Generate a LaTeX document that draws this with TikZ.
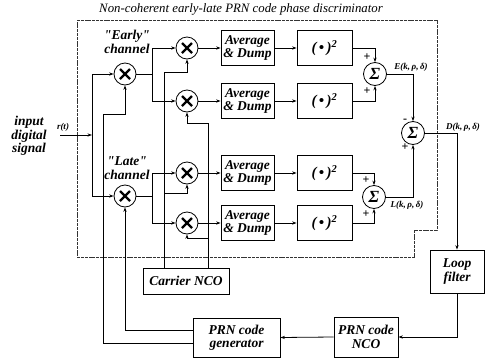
\documentclass[tikz,border=0pt]{standalone}
\usepackage{fontspec}
\setmainfont{Liberation Serif}
\newfontfamily\lsf{Liberation Serif}
\usetikzlibrary{arrows.meta}
\tikzset{
  lbl/.style={font=\lsf\bfseries\itshape\fontsize{13.5}{13.5}\selectfont, align=center, inner sep=0pt},
  blk/.style={draw, lbl, minimum width=53pt, minimum height=35pt},
  sqbox/.style={draw, lbl, minimum width=55pt, minimum height=35pt, font=\lsf\bfseries\itshape\fontsize{15}{15}\selectfont},
  mult/.style={draw, circle, minimum size=22pt, inner sep=0pt,
    path picture={\draw[line width=2.2pt]
      ([shift={(-5pt,-5pt)}]path picture bounding box.center) -- ([shift={(5pt,5pt)}]path picture bounding box.center)
      ([shift={(-5pt,5pt)}]path picture bounding box.center) -- ([shift={(5pt,-5pt)}]path picture bounding box.center);}},
  sumn/.style={draw, circle, minimum size=23pt, inner sep=0pt, font=\lsf\bfseries\itshape\fontsize{17}{17}\selectfont},
  sml/.style={font=\lsf\bfseries\itshape\fontsize{9}{9}\selectfont, inner sep=0pt},
  sgn/.style={font=\lsf\bfseries\fontsize{12}{12}\selectfont, inner sep=0pt},
  encl/.style={line width=0.6pt, black!80, dash pattern=on 3pt off 0.8pt}
}
\begin{document}
\begin{tikzpicture}[x=1pt,y=-1pt, line width=0.8pt, >={Stealth[length=4.5pt,width=3.2pt]}]
\useasboundingbox (0,0) rectangle (485,362);
% enclosure and title
\node[font=\lsf\itshape\fontsize{12.8}{13}\selectfont, inner sep=0pt] (title) at (241,9) {Non-coherent early-late PRN code phase discriminator};
\draw[encl] (77,20) -- (437,20) -- (437,230) -- (414,230) -- (414,257) -- (77,257) -- cycle;
% input
\node[lbl] (inp) at (29,136) {input\\digital\\signal};
\node[sml] (rt) at (63,127) {r(t)};
\coordinate (inS) at (60,135);
\coordinate (bus) at (92,135);
% multipliers
\node[mult] (E0) at (125,74) {};
\node[mult] (L0) at (125,196) {};
\node[mult] (EI) at (187,48) {};
\node[mult] (EQ) at (187,101) {};
\node[mult] (LI) at (187,173) {};
\node[mult] (LQ) at (187,223) {};
\node[lbl] (chE) at (127,42) {"Early"\\channel};
\node[lbl] (chL) at (127,168) {"Late"\\channel};
% blocks
\node[blk] (A1) at (247.5,48) {Average\\\& Dump};
\node[blk] (A2) at (247.5,101) {Average\\\& Dump};
\node[blk] (A3) at (247.5,173) {Average\\\& Dump};
\node[blk] (A4) at (247.5,223) {Average\\\& Dump};
\node[sqbox] (S1) at (324.5,48) {(\,•\,)\textsuperscript{2}};
\node[sqbox] (S2) at (324.5,101) {(\,•\,)\textsuperscript{2}};
\node[sqbox] (S3) at (324.5,173) {(\,•\,)\textsuperscript{2}};
\node[sqbox] (S4) at (324.5,223) {(\,•\,)\textsuperscript{2}};
% sums
\node[sumn] (SE) at (375,74) {Σ};
\node[sumn] (SL) at (374,197) {Σ};
\node[sumn] (SD) at (413,133) {Σ};
\node[sgn] (pE1) at (367,57) {+};
\node[sgn] (pE2) at (367,91) {+};
\node[sgn] (pL1) at (366,180) {+};
\node[sgn] (pL2) at (366,214) {+};
\node[sgn] (mD) at (405,121) {-};
\node[sgn] (pD) at (405,147) {+};
\node[sml] (lE) at (411,67) {E(k,\,ρ,\,δ)};
\node[sml] (lL) at (407,205) {L(k,\,ρ,\,δ)};
\node[sml] (lD) at (463,127) {D(k,\,ρ,\,δ)};
% lower blocks
\node[draw, lbl, minimum width=86pt, minimum height=26pt] (CN) at (186,281) {Carrier NCO};
\node[draw, lbl, minimum width=54pt, minimum height=43pt] (LF) at (457,271.5) {Loop\\filter};
\node[draw, lbl, minimum width=64pt, minimum height=40pt] (PN) at (366,337) {PRN code\\NCO};
\node[draw, lbl, minimum width=87pt, minimum height=39pt] (PG) at (236.5,337.5) {PRN code\\generator};
% coordinates
\coordinate (jE) at (152,74);
\coordinate (jL) at (152,196);
\coordinate (kE) at (103,114);
\coordinate (cAtop) at (164,72);
\coordinate (cAL) at (164,193);
\coordinate (cBtop) at (208,123);
\coordinate (cBL) at (208,238);
% connectors
\draw[->] (inS) -- (bus);
\draw[->] (bus) |- (E0.west);
\draw[->] (bus) |- (L0.west);
\draw (E0.east) -- (jE);
\draw[->] (jE) |- (EI.west);
\draw[->] (jE) |- (EQ.west);
\draw (L0.east) -- (jL);
\draw[->] (jL) |- (LI.west);
\draw[->] (jL) |- (LQ.west);
\foreach \m/\a/\s in {EI/A1/S1, EQ/A2/S2, LI/A3/S3, LQ/A4/S4}{
  \draw[->] (\m.east) -- (\a.west);
  \draw[->] (\a.east) -- (\s.west);
}
\draw[->] (S1.east) -| (SE.north);
\draw[->] (S2.east) -| (SE.south);
\draw[->] (S3.east) -| (SL.north);
\draw[->] (S4.east) -| (SL.south);
\draw[->] (SE.east) -| (SD.north);
\draw[->] (SL.east) -| (SD.south);
\draw[->] (SD.east) -| (LF.north);
\draw[->] (LF.south) |- (PN.east);
\draw[->] (PN.west) -- (PG.east);
\draw[->] ([yshift=7.5pt]PG.west) -| (L0.south);
\draw[->] ([yshift=-5.5pt]PG.west) -| (kE) -| (E0.south);
\draw[->] ([xshift=-22pt]CN.north) -- (cAtop) -| (EI.south);
\draw[->] (cAL) -| (LI.south);
\draw[->] ([xshift=22pt]CN.north) -- (cBtop) -| (EQ.south);
\draw[->] (cBL) -| (LQ.south);
\end{tikzpicture}
\end{document}
